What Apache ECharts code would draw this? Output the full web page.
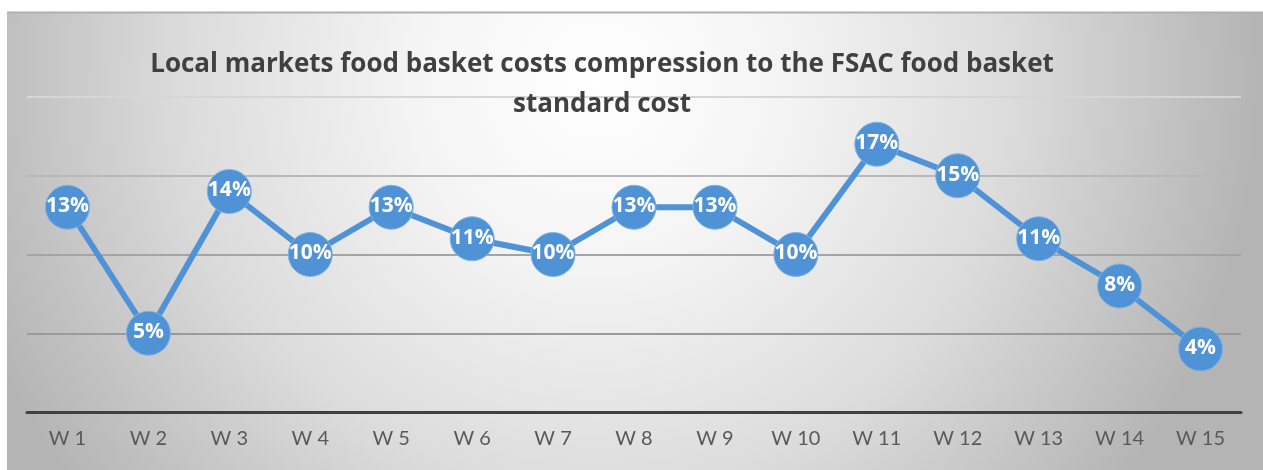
<!DOCTYPE html>
<html>
<head>
<meta charset="utf-8">
<title>Food basket costs</title>
<script src="https://cdn.jsdelivr.net/npm/echarts@6/dist/echarts.min.js"></script>
<style>
  html, body { margin: 0; padding: 0; background: #fff; }
  #chart { width: 1263px; height: 470px; }
</style>
</head>
<body>
<div id="chart"></div>
<script>
// weeks and share of the FSAC standard cost (%)
var weeks = ["W 1", "W 2", "W 3", "W 4", "W 5", "W 6", "W 7", "W 8", "W 9", "W 10", "W 11", "W 12", "W 13", "W 14", "W 15"];
var costGap = [13, 5, 14, 10, 13, 11, 10, 13, 13, 10, 17, 15, 11, 8, 4];

var chart = echarts.init(document.getElementById("chart"));

chart.setOption({
  animation: false,
  backgroundColor: "#ffffff",
  title: {
    text: "Local markets food basket costs compression to the FSAC food basket\nstandard cost",
    left: 597,
    top: 40,
    textAlign: "center",
    textStyle: {
      color: "#404040",
      fontFamily: "'Open Sans', sans-serif",
      fontWeight: "bold",
      fontSize: 26,
      lineHeight: 40
    }
  },
  graphic: [
    {
      type: "rect",
      z: -10,
      shape: { x: 7, y: 12, width: 1256, height: 458 },
      style: {
        fill: {
          type: "radial",
          x: 0.47, y: 0.15, r: 1.45,
          colorStops: [
            { offset: 0, color: "#ffffff" },
            { offset: 0.28, color: "#f4f4f4" },
            { offset: 0.62, color: "#dcdcdc" },
            { offset: 1, color: "#b4b4b4" }
          ]
        }
      },
      silent: true
    },
    {
      type: "line",
      z: -9,
      shape: { x1: 7, y1: 12.5, x2: 1263, y2: 12.5 },
      style: { stroke: "#b0b0b0", lineWidth: 2 },
      silent: true
    }
  ],
  grid: {
    left: 27,
    right: 22,
    top: 97,
    bottom: 58
  },
  xAxis: {
    type: "category",
    data: weeks,
    boundaryGap: true,
    axisLine: { lineStyle: { color: "#404040", width: 3 } },
    axisTick: { show: false },
    axisLabel: {
      color: "#595959",
      fontSize: 20,
      fontFamily: "Lato",
      margin: 17
    }
  },
  yAxis: {
    type: "value",
    min: 0,
    max: 20,
    interval: 5,
    axisLine: { show: false },
    axisTick: { show: false },
    axisLabel: { show: false },
    splitLine: {
      lineStyle: {
        color: ["#808080", "#9a9a9a", "#a4a4a4", "#b8b8b8", "#d6d6d6"],
        width: 2
      }
    }
  },
  series: [
    {
      type: "line",
      data: costGap,
      clip: false,
      symbol: "circle",
      symbolSize: 44,
      itemStyle: {
        color: "#4f93d6",
        borderColor: "#7fb2e3",
        borderWidth: 1
      },
      lineStyle: { color: "#4f93d6", width: 6 },
      label: {
        show: true,
        position: "inside",
        offset: [0, -1],
        formatter: "{c}%",
        color: "#ffffff",
        fontWeight: "bold",
        fontSize: 21,
        fontFamily: "'Open Sans', sans-serif"
      }
    }
  ]
});
</script>
</body>
</html>
